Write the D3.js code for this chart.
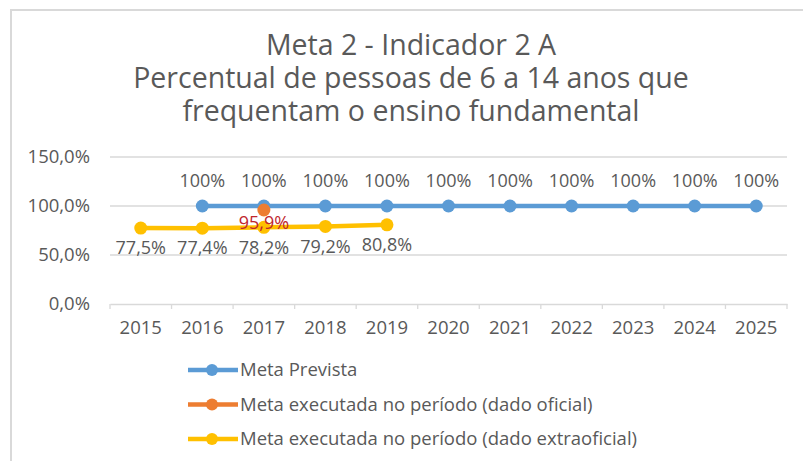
<!DOCTYPE html>
<html>
<head>
<meta charset="utf-8">
<script src="https://cdn.jsdelivr.net/npm/d3@7"></script>
<style>
  body { margin: 0; background: #fff; }
  svg text { font-family: "Open Sans", "Noto Sans", sans-serif; fill: #595959; }
</style>
</head>
<body>
<svg id="chart" width="803" height="461"></svg>
<script>
// data
const years = ["2015", "2016", "2017", "2018", "2019", "2020", "2021", "2022", "2023", "2024", "2025"];
const metaPrevista = [null, 100, 100, 100, 100, 100, 100, 100, 100, 100, 100];
const metaOficial = [null, null, 95.9, null, null, null, null, null, null, null, null];
const metaExtraoficial = [77.5, 77.4, 78.2, 79.2, 80.8, null, null, null, null, null, null];
const yTicks = [0, 50, 100, 150];
const titleLines = ["Meta 2 - Indicador 2 A", "Percentual de pessoas de 6 a 14 anos que", "frequentam o ensino fundamental"];

const pct1 = (v) => d3.format(".1f")(v).replace(".", ",") + "%";

const series = [
  { name: "Meta Prevista", values: metaPrevista, color: "#5b9bd5", labelColor: "#595959", labelDy: -25, fmt: (v) => d3.format(".0f")(v) + "%" },
  { name: "Meta executada no período (dado oficial)", values: metaOficial, color: "#ed7d31", labelColor: "#c0262d", labelDy: 13, fmt: pct1 },
  { name: "Meta executada no período (dado extraoficial)", values: metaExtraoficial, color: "#ffc000", labelColor: "#595959", labelDy: 20, fmt: pct1 },
];

const svg = d3.select("#chart");

// chart frame (top + left edge only, as in the picture)
svg.append("path")
  .attr("d", "M 11 461 L 11 10 L 803 10")
  .attr("fill", "none")
  .attr("stroke", "#d9d9d9")
  .attr("stroke-width", 2);

// title
const title = svg.append("text")
  .attr("text-anchor", "middle")
  .attr("font-size", 28.5);
titleLines.forEach((line, i) => {
  title.append("tspan").attr("x", 411).attr("y", 55 + i * 33).text(line);
});

const x = d3.scaleBand().domain(years).range([110, 787]);
const y = d3.scaleLinear().domain([0, 150]).range([304, 157]);

// gridlines
svg.append("g")
  .selectAll("line")
  .data(yTicks.filter((t) => t > 0))
  .join("line")
  .attr("x1", 110)
  .attr("x2", 787)
  .attr("y1", (d) => y(d))
  .attr("y2", (d) => y(d))
  .attr("stroke", "#d9d9d9")
  .attr("stroke-width", 1.3);

// y axis labels
svg.append("g")
  .selectAll("text")
  .data(yTicks)
  .join("text")
  .attr("x", 90)
  .attr("y", (d) => y(d))
  .attr("dy", "0.35em")
  .attr("text-anchor", "end")
  .attr("font-size", 18.5)
  .text(pct1);

// x axis
const xAxis = svg.append("g")
  .attr("transform", "translate(0," + y(0) + ")")
  .call(d3.axisBottom(x).tickSize(0).tickPadding(17));
xAxis.select(".domain").attr("stroke", "#d9d9d9").attr("stroke-width", 1.3);
xAxis.selectAll("text")
  .attr("font-size", 18.5)
  .attr("font-family", null)
  .attr("fill", null);
// category boundary ticks
xAxis.append("g")
  .selectAll("line")
  .data(years.map((d) => x(d)).concat([x.range()[1]]))
  .join("line")
  .attr("x1", (d) => d)
  .attr("x2", (d) => d)
  .attr("y1", 0)
  .attr("y2", 5)
  .attr("stroke", "#d9d9d9")
  .attr("stroke-width", 1.3);

const cx = (i) => x(years[i]) + x.bandwidth() / 2;
const line = d3.line()
  .defined((d) => d != null)
  .x((d, i) => cx(i))
  .y((d) => y(d));

// lines and markers
series.forEach((s) => {
  const g = svg.append("g");
  g.append("path")
    .attr("d", line(s.values))
    .attr("fill", "none")
    .attr("stroke", s.color)
    .attr("stroke-width", 4.5)
    .attr("stroke-linejoin", "round");
  g.selectAll("circle")
    .data(s.values.map((v, i) => ({ v, i })).filter((d) => d.v != null))
    .join("circle")
    .attr("cx", (d) => cx(d.i))
    .attr("cy", (d) => y(d.v))
    .attr("r", 6.5)
    .attr("fill", s.color);
});

// data labels
series.forEach((s) => {
  svg.append("g")
    .selectAll("text")
    .data(s.values.map((v, i) => ({ v, i })).filter((d) => d.v != null))
    .join("text")
    .attr("x", (d) => cx(d.i))
    .attr("y", (d) => y(d.v) + s.labelDy)
    .attr("dy", "0.35em")
    .attr("text-anchor", "middle")
    .attr("font-size", 18)
    .style("fill", s.labelColor)
    .text((d) => s.fmt(d.v));
});

// legend
const legend = svg.append("g")
  .selectAll("g")
  .data(series)
  .join("g")
  .attr("transform", (d, i) => "translate(188," + (370 + i * 34.5) + ")");
legend.append("line")
  .attr("x1", 0)
  .attr("x2", 50)
  .attr("stroke", (d) => d.color)
  .attr("stroke-width", 4.5);
legend.append("circle")
  .attr("cx", 24)
  .attr("r", 6)
  .attr("fill", (d) => d.color);
legend.append("text")
  .attr("x", 52)
  .attr("dy", "0.35em")
  .attr("font-size", 18.5)
  .text((d) => d.name);
</script>
</body>
</html>
